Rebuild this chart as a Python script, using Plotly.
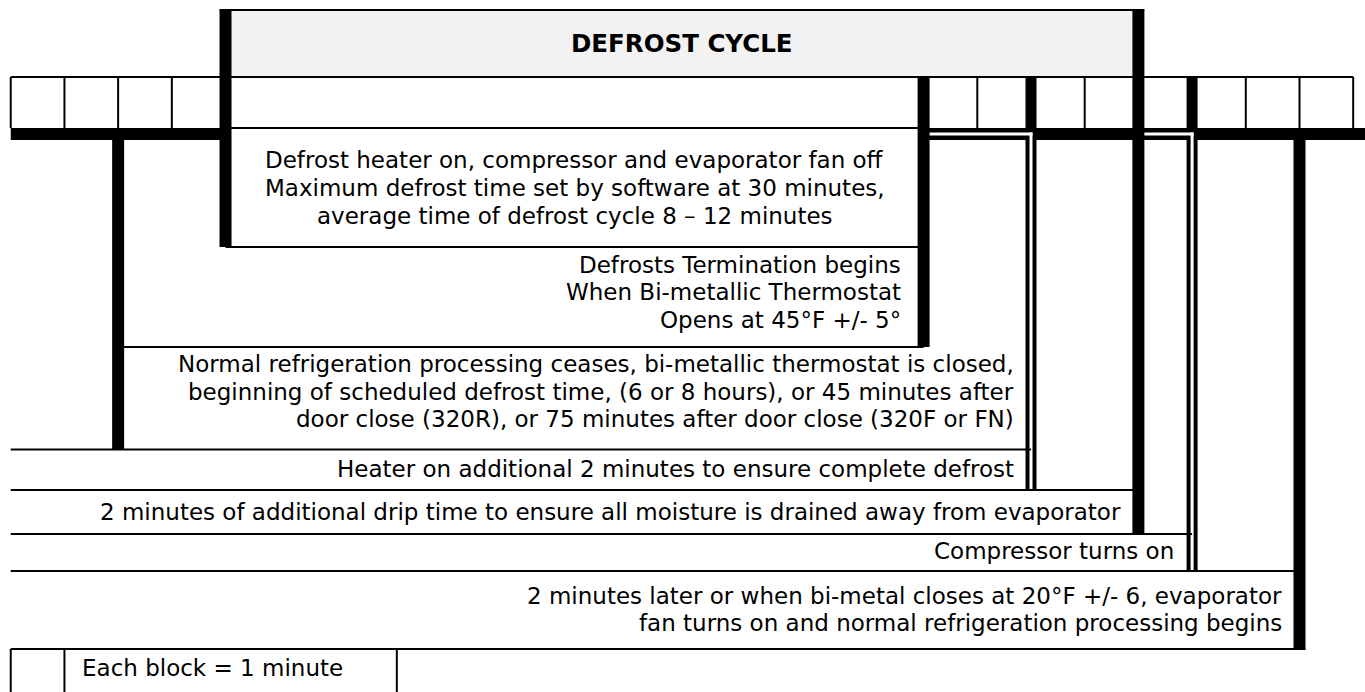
import plotly.graph_objects as go

# ---------------- data (minutes on the timeline) ----------------
n_blocks = 25                                   # each block = 1 minute
block_edges = list(range(0, n_blocks + 1))      # 0 .. 25
header_title = "DEFROST CYCLE"
header_span = [4, 21]                           # defrost cycle minutes
defrost_block_span = [4, 17]                    # merged (no dividers)
legend_text = "Each block = 1 minute"

event_start = [4, 2, 2, 0, 0, 0, 0]
event_end = [17, 17, 19, 19, 21, 22, 24]
event_bar = ["thick", "thick", "double", "double", "thick", "double", "thick"]
event_text = [
    ["Defrost heater on, compressor and evaporator fan off",
     "Maximum defrost time set by software at 30 minutes,",
     "average time of defrost cycle 8 \u2013 12 minutes"],
    ["Defrosts Termination begins",
     "When Bi-metallic Thermostat",
     "Opens at 45\u00b0F +/- 5\u00b0"],
    ["Normal refrigeration processing ceases, bi-metallic thermostat is closed,",
     "beginning of scheduled defrost time, (6 or 8 hours), or 45 minutes after",
     "door close (320R), or 75 minutes after door close (320F or FN)"],
    ["Heater on additional 2 minutes to ensure complete defrost"],
    ["2 minutes of additional drip time to ensure all moisture is drained away from evaporator"],
    ["Compressor turns on"],
    ["2 minutes later or when bi-metal closes at 20\u00b0F +/- 6, evaporator",
     "fan turns on and normal refrigeration processing begins"],
]

# ---------------- layout (pixel rows, styles) ----------------
W, H = 1365, 692
X_RANGE = [-0.2, 25.22]
PX = (X_RANGE[1] - X_RANGE[0]) / W             # minutes per pixel
Y_HEADER_TOP, Y_BLOCK_TOP, Y_BLOCK_BOT, Y_THICK = 10, 77, 128, 134
row_bottom = [247, 347, 449.5, 490, 534, 571, 649]
row_line_span = [[4, 17], [2, 17], [0, 19], [0, 21], [0, 22], [0, 24], [0, 24]]
text_y = [[160, 188, 216], [265, 292, 320], [364, 392, 419], [469], [512], [551], [596, 623]]
text_align = ["center", "right", "right", "right", "right", "right", "right"]
text_shift = [0, -21, -15, -15, -15, -16, -15]
THICK, DOUBLE, GAP, THIN = 12, 11, 3, 2
FONT = "DejaVu Sans"
LEGEND_RIGHT = 7.19

shapes = []


def line(x0, y0, x1, y1, w, color="black"):
    shapes.append(dict(type="line", xref="x", yref="y", x0=x0, y0=y0, x1=x1, y1=y1,
                       line=dict(color=color, width=w), layer="above"))


# header fill
h0 = header_span[0] + THICK / 2 * PX
h1 = header_span[1] - THICK / 2 * PX
shapes.append(dict(type="rect", xref="x", yref="y", x0=h0, x1=h1, y0=Y_HEADER_TOP, y1=Y_BLOCK_TOP,
                   fillcolor="#f2f2f2", line=dict(width=0), layer="below"))
# header top line
line(header_span[0] - THICK / 2 * PX, Y_HEADER_TOP, header_span[1] + THICK / 2 * PX, Y_HEADER_TOP, THIN)
# block row
line(block_edges[0], Y_BLOCK_TOP, block_edges[-1], Y_BLOCK_TOP, THIN)
for k in block_edges:
    if defrost_block_span[0] < k < defrost_block_span[1]:
        continue
    line(k, Y_BLOCK_TOP, k, Y_BLOCK_BOT, THIN)
line(defrost_block_span[0], Y_BLOCK_BOT, defrost_block_span[1], Y_BLOCK_BOT, THIN)

# thick horizontal baseline (except inside the merged defrost block)
line(block_edges[0], Y_THICK, defrost_block_span[0], Y_THICK, THICK)
line(defrost_block_span[1], Y_THICK, X_RANGE[1], Y_THICK, THICK)

# vertical event bars
# starts
line(event_start[0], Y_HEADER_TOP, event_start[0], row_bottom[0], THICK)     # heater start
line(event_start[2], Y_THICK, event_start[2], row_bottom[2], THICK)          # refrigeration ceases
# ends
ends_done = {}
for i in range(len(event_end)):
    ends_done[event_end[i]] = (row_bottom[i], event_bar[i])
for k, (yb, kind) in ends_done.items():
    top = Y_HEADER_TOP if k == header_span[1] else (Y_THICK if k == n_blocks - 1 else Y_BLOCK_TOP)
    line(k, top, k, yb, THICK if kind == "thick" else DOUBLE)

# white gaps of double lines
for i in range(len(event_end)):
    if event_bar[i] != "double" or i == 3:
        continue
    k = event_end[i]
    prev = max(e for e in set(event_end) if e < k)
    line(prev + THICK / 2 * PX, Y_THICK, k + 1.5 * PX, Y_THICK, GAP, "white")
    line(k, Y_THICK - 1.5, k, row_bottom[i] if k != 19 else row_bottom[3], GAP, "white")

# row lines
for i, (a, b) in enumerate(row_line_span):
    xb = b + (THICK / 2 * PX if i == len(row_line_span) - 1 else 0)
    line(a, row_bottom[i], xb, row_bottom[i], THIN)

# legend box
line(block_edges[0], row_bottom[-1], block_edges[0], H, THIN)
line(block_edges[1], row_bottom[-1], block_edges[1], H, THIN)
line(LEGEND_RIGHT, row_bottom[-1], LEGEND_RIGHT, H, THIN)

annotations = []
for i, lines in enumerate(event_text):
    for j, t in enumerate(lines):
        if text_align[i] == "center":
            x, xa = (event_start[i] + event_end[i]) / 2, "center"
        else:
            x, xa = event_end[i], "right"
        annotations.append(dict(x=x, y=text_y[i][j], xref="x", yref="y", text=t, showarrow=False,
                                xanchor=xa, yanchor="middle", xshift=text_shift[i],
                                font=dict(family=FONT, size=23, color="black")))
annotations.append(dict(x=(header_span[0] + header_span[1]) / 2, y=43, xref="x", yref="y",
                        text="<b>" + header_title + "</b>", showarrow=False, xanchor="center",
                        yanchor="middle", font=dict(family=FONT, size=24.5, color="black")))
annotations.append(dict(x=block_edges[1], y=668, xref="x", yref="y", text=legend_text, showarrow=False,
                        xanchor="left", yanchor="middle", xshift=16,
                        font=dict(family=FONT, size=23, color="black")))

fig = go.Figure()
fig.update_layout(
    width=W, height=H, margin=dict(l=0, r=0, t=0, b=0),
    paper_bgcolor="white", plot_bgcolor="white", showlegend=False,
    xaxis=dict(range=X_RANGE, visible=False, fixedrange=True),
    yaxis=dict(range=[H, 0], visible=False, fixedrange=True),
    shapes=shapes, annotations=annotations,
)
fig.write_html("out.html", config={"displayModeBar": False, "staticPlot": True},
               post_script="document.body.style.margin='0';document.body.style.overflow='hidden';")
